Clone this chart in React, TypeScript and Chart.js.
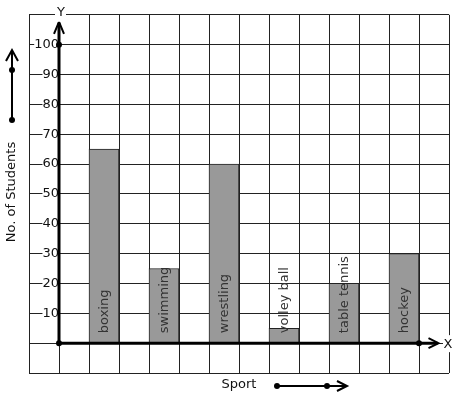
import React, { useEffect, useRef } from 'react';
import { Chart, registerables } from 'chart.js';

Chart.register(...registerables);

const sports = ['boxing', 'swimming', 'wrestling', 'volley ball', 'table tennis', 'hockey'];
const students = [65, 25, 60, 5, 20, 30];
const yTickLabels = [10, 20, 30, 40, 50, 60, 70, 80, 90, 100];
const xAxisTitle = 'Sport';
const yAxisTitle = 'No. of Students';
const xAxisLetter = 'X';
const yAxisLetter = 'Y';

const FONT = "'DejaVu Sans', sans-serif";

export default function App() {
  const ref = useRef<HTMLCanvasElement>(null);

  useEffect(() => {
    const canvas = ref.current;
    if (!canvas) return;

    const deco = {
      id: 'deco',
      afterDraw(chart: any) {
        const c = chart.ctx;
        const xs = chart.scales.x;
        const ys = chart.scales.y;
        const ox = xs.getPixelForValue(0);
        const oy = ys.getPixelForValue(0);
        const top = chart.chartArea.top;
        const right = chart.chartArea.right;
        c.save();

        // bar labels
        const meta = chart.getDatasetMeta(0);
        c.fillStyle = '#333';
        c.font = `13px ${FONT}`;
        c.textAlign = 'left';
        c.textBaseline = 'middle';
        meta.data.forEach((bar: any, i: number) => {
          c.save();
          c.translate(bar.x + 1, oy - 10);
          c.rotate(-Math.PI / 2);
          c.fillText(sports[i], 0, 0);
          c.restore();
        });

        c.strokeStyle = '#000';
        c.fillStyle = '#000';
        c.lineCap = 'butt';

        // Y axis
        const yTip = top + 7;
        c.lineWidth = 3;
        c.beginPath();
        c.moveTo(ox, oy);
        c.lineTo(ox, yTip + 1);
        c.stroke();
        c.lineWidth = 2;
        c.beginPath();
        c.moveTo(ox - 5, yTip + 12);
        c.lineTo(ox, yTip);
        c.lineTo(ox + 5, yTip + 12);
        c.stroke();

        // X axis
        const xTip = xs.getPixelForValue(12.65);
        c.lineWidth = 3;
        c.beginPath();
        c.moveTo(ox, oy);
        c.lineTo(xTip - 1, oy);
        c.stroke();
        c.lineWidth = 2;
        c.beginPath();
        c.moveTo(xTip - 10, oy - 5);
        c.lineTo(xTip, oy);
        c.lineTo(xTip - 10, oy + 5);
        c.stroke();

        // dots
        const dot = (x: number, y: number) => {
          c.beginPath();
          c.arc(x, y, 3, 0, Math.PI * 2);
          c.fill();
        };
        dot(ox, oy);
        dot(ox, ys.getPixelForValue(100));
        dot(xs.getPixelForValue(12), oy);

        // axis letters
        c.font = `13px ${FONT}`;
        c.textAlign = 'center';
        c.textBaseline = 'middle';
        c.fillStyle = '#fff';
        c.fillRect(ox - 4, top - 9, 11, 16);
        c.fillRect(right - 6, oy - 8, 11, 17);
        c.fillStyle = '#111';
        c.fillText(yAxisLetter, ox + 2, top - 2);
        c.fillText(xAxisLetter, right - 1, oy + 1);

        // x title + arrow
        c.fillText(xAxisTitle, 239, 385);
        c.lineWidth = 2;
        c.beginPath();
        c.moveTo(277, 386);
        c.lineTo(346, 386);
        c.stroke();
        c.beginPath();
        c.moveTo(337, 381);
        c.lineTo(347, 386);
        c.lineTo(337, 391);
        c.stroke();
        c.fillStyle = '#000';
        dot(277, 386);
        dot(327, 386);

        // y title + arrow
        c.save();
        c.translate(12, 192);
        c.rotate(-Math.PI / 2);
        c.fillStyle = '#111';
        c.fillText(yAxisTitle, 0, 0);
        c.restore();
        c.beginPath();
        c.moveTo(12, 120);
        c.lineTo(12, 51);
        c.stroke();
        c.beginPath();
        c.moveTo(6, 61);
        c.lineTo(12, 50);
        c.lineTo(18, 61);
        c.stroke();
        dot(12, 120);
        dot(12, 70);

        c.restore();
      },
    };

    const chart = new Chart(canvas, {
      type: 'bar',
      data: {
        datasets: [
          {
            label: 'No. of Students',
            data: sports.map((s, i) => ({ x: 1.5 + 2 * i, y: students[i] })),
            backgroundColor: '#999999',
            borderColor: '#222',
            borderWidth: 1,
            barPercentage: 1,
            categoryPercentage: 1,
          },
        ],
      },
      options: {
        responsive: false,
        animation: false,
        devicePixelRatio: 1,
        layout: { padding: { left: 29, top: 13, right: 8, bottom: 26 } },
        plugins: { legend: { display: false }, tooltip: { enabled: false } },
        scales: {
          x: {
            type: 'linear',
            position: { y: 0 } as any,
            offset: false,
            min: -1,
            max: 13,
            ticks: { stepSize: 1, display: false },
            grid: { color: '#222', lineWidth: 1, drawTicks: false, offset: false },
            border: { display: false },
          },
          y: {
            type: 'linear',
            position: { x: 0 } as any,
            min: -10,
            max: 110,
            ticks: {
              stepSize: 10,
              padding: 7,
              color: '#111',
              font: { family: FONT, size: 13 },
              callback: (v: any) => (yTickLabels.includes(Number(v)) ? String(v) : ''),
              showLabelBackdrop: true,
              backdropColor: '#fff',
              backdropPadding: 0,
            } as any,
            grid: { color: '#222', lineWidth: 1, drawTicks: false },
            border: { display: false },
          },
        },
      },
      plugins: [deco],
    });

    return () => chart.destroy();
  }, []);

  return (
    <div style={{ position: 'absolute', left: 0, top: 0, width: 457, height: 399, background: '#fff' }}>
      <canvas ref={ref} width={457} height={399} style={{ display: 'block', width: 457, height: 399 }} />
    </div>
  );
}
